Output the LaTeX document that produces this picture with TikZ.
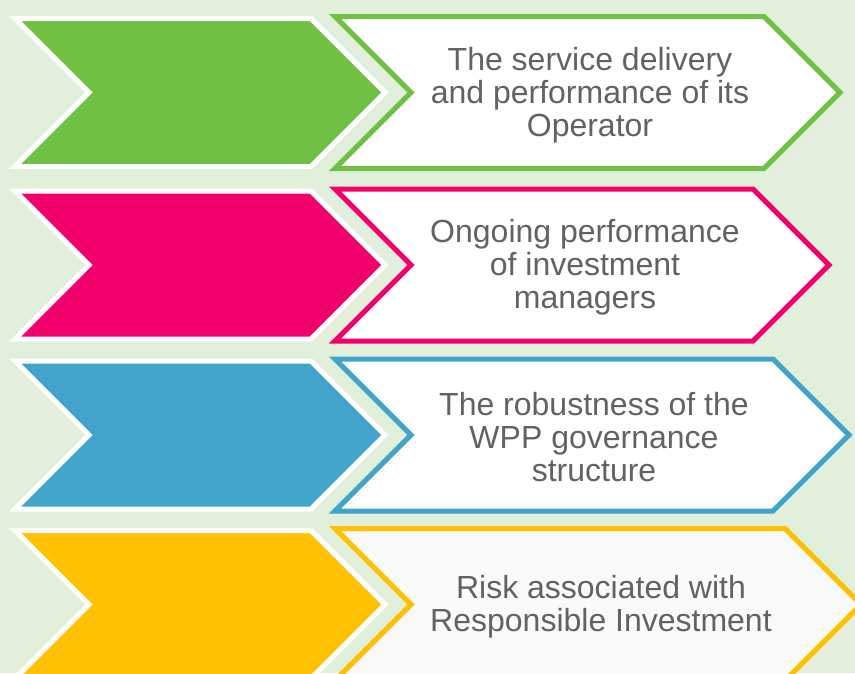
\documentclass[tikz,border=0pt]{standalone}
\usepackage{fontspec}
\setmainfont{Liberation Sans}
\usepackage{xcolor}
\usepackage{tikz}

\definecolor{bggreen}{HTML}{E2EFDA}
\definecolor{leafgreen}{HTML}{6FC043}
\definecolor{hotpink}{HTML}{F2006B}
\definecolor{skyblue}{HTML}{41A4CB}
\definecolor{sunyellow}{HTML}{FFC000}
\definecolor{paper}{HTML}{FAFAF8}
\definecolor{textgray}{HTML}{626262}

\tikzset{
    leftarrow/.style={draw=white, line width=5pt, fill=#1},
    rightarrow/.style={draw=#1, line width=5pt},
    risktext/.style={text=textgray, align=center, inner sep=0pt,
        font=\fontsize{32}{33}\selectfont}
}

\begin{document}
\begin{tikzpicture}[x=1pt,y=-1pt]
    % Page and background
    \useasboundingbox (0,0) rectangle (855,673);
    \fill[bggreen] (0,0) rectangle (855,673);
    \clip (0,0) rectangle (855,673);
    % Rows: centre, colour, right corner, fill, text centre, text
    \foreach \yc/\col/\rx/\fl/\tx/\txt [count=\n] in {%
        92.5/leafgreen/764/white/590/{The service delivery\\and performance of its\\Operator},
        265/hotpink/753/white/585/{Ongoing performance\\of investment\\managers},
        435/skyblue/773/white/594/{The robustness of the\\WPP governance\\structure},
        604.5/sunyellow/785/paper/601/{Risk associated with\\Responsible Investment}} {%
        % Filled chevron
        \draw[leftarrow=\col] (15,\yc-74) -- (311,\yc-74) -- (385,\yc)
            -- (311,\yc+74) -- (15,\yc+74) -- (89,\yc) -- cycle;
        % Outlined chevron
        \draw[rightarrow=\col, fill=\fl] (335,\yc-76) -- (\rx,\yc-76) -- (\rx+76,\yc)
            -- (\rx,\yc+76) -- (335,\yc+76) -- (411,\yc) -- cycle;
        % Label
        \node[risktext] (risk\n) at (\tx,\yc+2.5) {\txt};
    }
\end{tikzpicture}
\end{document}
